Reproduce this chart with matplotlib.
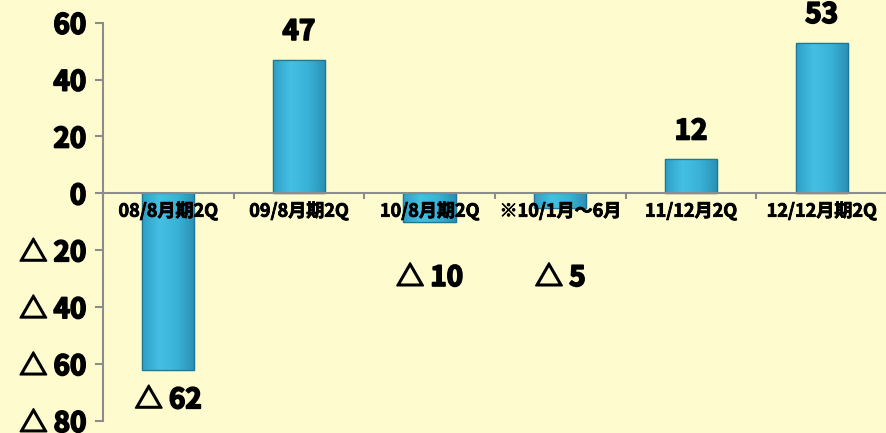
import matplotlib.pyplot as plt
import matplotlib.font_manager as fm
import matplotlib.patheffects as pe
import numpy as np

# data
categories = ["08/8月期2Q", "09/8月期2Q", "10/8月期2Q", "※10/1月～6月", "11/12月2Q", "12/12月期2Q"]
values = [-62, 47, -10, -5, 12, 53]
yticks = [-80, -60, -40, -20, 0, 20, 40, 60]

names = {f.name for f in fm.fontManager.ttflist}
fam = [f for f in ["Liberation Sans Narrow", "Noto Sans CJK JP", "DejaVu Sans"] if f in names]
plt.rcParams['font.family'] = fam
plt.rcParams['font.weight'] = 'bold'

heavy = [pe.withStroke(linewidth=1.3, foreground="black")]

bg = "#FEFCCE"
fig = plt.figure(figsize=(8.87, 4.33), dpi=100, facecolor=bg)
ax = fig.add_axes([0.116, 0.028, 0.884, 0.9196])
ax.set_facecolor(bg)

x = np.arange(len(categories))
bars = ax.bar(x, values, width=0.4, color="#36AFD4", edgecolor="#1E7896",
              linewidth=0.9, zorder=1)

# gradient shading on each bar
grad = np.linspace(0, 1, 64).reshape(1, -1)
cmap = plt.matplotlib.colors.LinearSegmentedColormap.from_list(
    "b", ["#2F9FC6", "#44C0E3", "#3AB2D7", "#2A8FB5"])
for b in bars:
    x0, y0 = b.get_x(), b.get_y()
    w, h = b.get_width(), b.get_height()
    lo, hi = min(y0, y0 + h), max(y0, y0 + h)
    im = ax.imshow(grad, extent=[x0, x0 + w, lo, hi], origin='lower', cmap=cmap,
                   aspect='auto', zorder=1.2)
    im.set_clip_path(b)
    ax.bar(b.get_x() + w / 2, h, width=w, fill=False, edgecolor="#1E7896",
           linewidth=0.9, zorder=1.3)

ax.set_xlim(-0.5, len(categories) - 0.5)
ax.set_ylim(-80, 60)


def fmt(v):
    return f"△ {abs(v)}" if v < 0 else f"{v}"


ax.set_yticks(yticks)
ax.set_yticklabels([fmt(v) for v in yticks], fontsize=20)
for t in ax.get_yticklabels():
    t.set_path_effects(heavy)

# x axis at zero
ax.spines['bottom'].set_position(('data', 0))
for s in ['top', 'right']:
    ax.spines[s].set_visible(False)
for s in ['left', 'bottom']:
    ax.spines[s].set_color("#8C8C8C")
    ax.spines[s].set_linewidth(1.5)
ax.set_xticks(x)
ax.set_xticklabels(categories, fontsize=13)
for t in ax.get_xticklabels():
    t.set_path_effects([pe.withStroke(linewidth=0.6, foreground="black")])
ax.set_xticks(np.arange(len(categories) + 1) - 0.5, minor=True)
ax.tick_params(axis='x', which='major', length=0, pad=6)
ax.tick_params(axis='x', which='minor', length=4, color="#8C8C8C", width=1.5)
ax.tick_params(axis='y', length=6, color="#8C8C8C", width=1.5, pad=6)

# value labels
for xi, v in zip(x, values):
    if v >= 0:
        ax.annotate(fmt(v), (xi, v), xytext=(0, 20), textcoords='offset points',
                    ha='center', va='center', fontsize=20, annotation_clip=False,
                    path_effects=heavy)
    else:
        ax.annotate(fmt(v), (xi, min(v, -19)), xytext=(0, -22), textcoords='offset points',
                    ha='center', va='center', fontsize=20, annotation_clip=False,
                    path_effects=heavy)

fig.savefig("out.png", dpi=100, facecolor=bg)
